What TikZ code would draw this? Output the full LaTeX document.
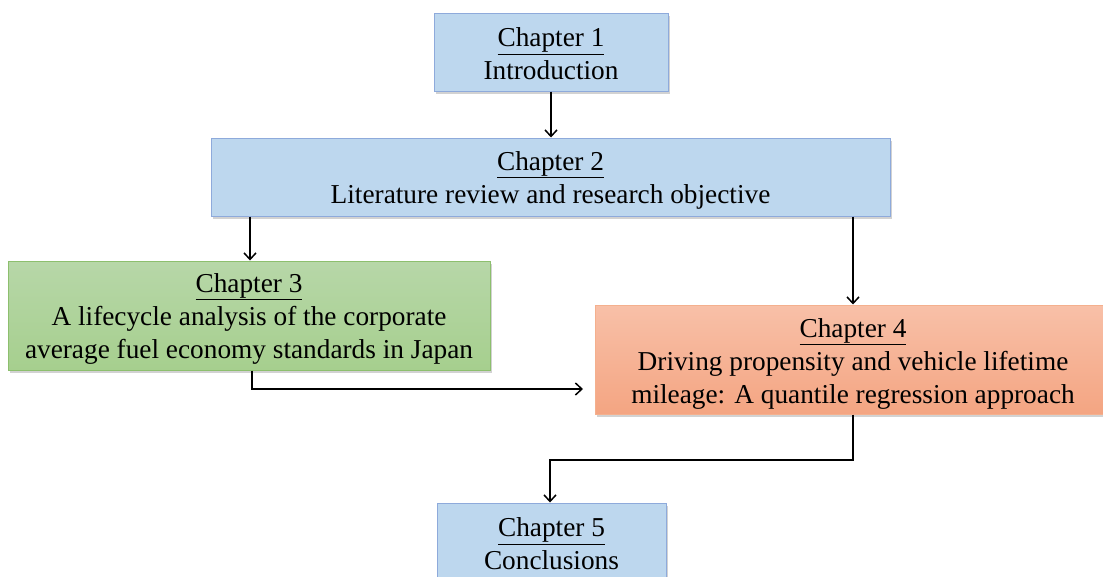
\documentclass[tikz,border=0pt]{standalone}
\usepackage{fontspec}
\setmainfont{Liberation Serif}
\usetikzlibrary{arrows.meta,shadows}
\definecolor{bluefill}{HTML}{BDD7EE}
\definecolor{blueline}{HTML}{8EAADB}
\definecolor{greentop}{HTML}{B7D7A8}
\definecolor{greenbot}{HTML}{A6CF8E}
\definecolor{greenline}{HTML}{8DBF6E}
\definecolor{orangetop}{HTML}{F8C0A8}
\definecolor{orangebot}{HTML}{F4A582}
\definecolor{orangeline}{HTML}{F4B08E}
\tikzset{
  chap/.style={draw, line width=1pt, inner sep=0pt,
    drop shadow={shadow xshift=2pt, shadow yshift=-2.5pt, opacity=0.35}},
  chaptext/.style={align=center, inner sep=0pt,
    font=\fontsize{27.3}{33}\selectfont},
  bluebox/.style={chap, fill=bluefill, draw=blueline},
  greenbox/.style={chap, top color=greentop, bottom color=greenbot, draw=greenline},
  orangebox/.style={chap, top color=orangetop, bottom color=orangebot, draw=orangeline},
  conn/.style={line width=1.5pt, -{Straight Barb[length=6.5pt,width=12pt,line width=1.5pt]}}
}
\begin{document}
\begin{tikzpicture}[x=1pt,y=-1pt]
\useasboundingbox (0,0) rectangle (1103,576);
\clip (0,0) rectangle (1103,576);
\fill[white] (0,0) rectangle (1103,576);
\node[bluebox, minimum width=234pt, minimum height=78pt] (c1) at (551,52) {};
\node[chaptext] (t1) at ([yshift=-2pt]c1.center) {\underline{Chapter 1}\\Introduction};
\node[bluebox, minimum width=679pt, minimum height=78pt] (c2) at (550.5,177) {};
\node[chaptext] (t2) at ([yshift=-3pt]c2.center) {\underline{Chapter 2}\\Literature review and research objective};
\node[greenbox, minimum width=482pt, minimum height=109pt] (c3) at (249,315.5) {};
\node[chaptext] (t3) at ([yshift=-3pt]c3.center) {\underline{Chapter 3}\\A lifecycle analysis of the corporate\\average fuel economy standards in Japan};
\node[orangebox, minimum width=516pt, minimum height=109pt] (c4) at (853,359.5) {};
\node[chaptext] (t4) at ([yshift=-4pt]c4.center) {\underline{Chapter 4}\\Driving propensity and vehicle lifetime\\mileage: A quantile regression approach};
\node[bluebox, minimum width=229pt, minimum height=78pt] (c5) at (551.5,542) {};
\node[chaptext] (t5) at ([yshift=-2pt]c5.center) {\underline{Chapter 5}\\Conclusions};
\coordinate (j3) at (252,389);
\coordinate (e3) at (583,389);
\coordinate (j4) at (853,460);
\coordinate (j5) at (550,460);
\draw[conn] (c1.south) -- (c1.south |- c2.north);
\draw[conn] (c2.south -| 250,0) -- (c3.north -| 250,0);
\draw[conn] (c2.south -| 853,0) -- (c4.north -| 853,0);
\draw[conn] (c3.south -| j3) -- (j3) -- (e3);
\draw[conn] (c4.south -| j4) -- (j4) -- (j5) -- (c5.north -| j5);
\end{tikzpicture}
\end{document}
